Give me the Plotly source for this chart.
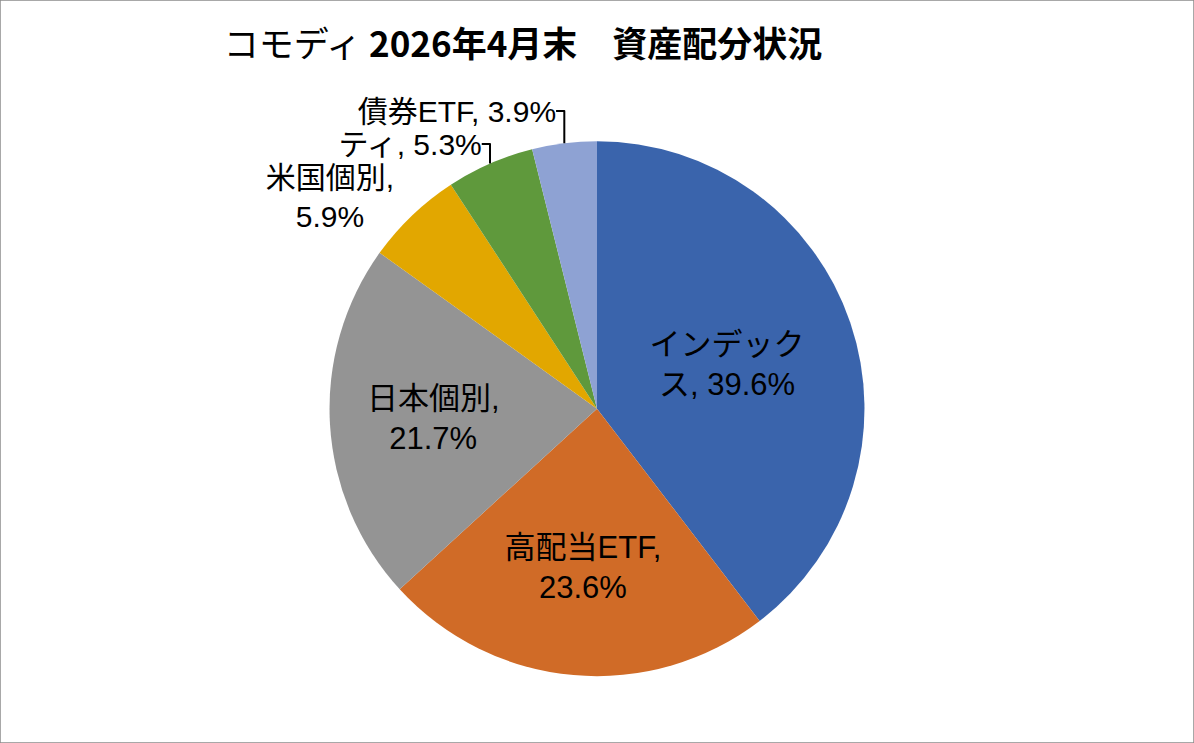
import plotly.graph_objects as go

# 資産配分 (2026年4月末)
labels = ["インデックス", "高配当ETF", "日本個別", "米国個別", "ティ", "債券ETF"]
values = [39.6, 23.6, 21.7, 5.9, 5.3, 3.9]
colors = ["#3A64AC", "#D06B27", "#949494", "#E2A700", "#5F993C", "#8EA2D3"]

# Excelの折り返しに合わせたラベル
texts = []
for lab, v in zip(labels, values):
    if lab == "インデックス":
        texts.append("インデック<br>ス, %.1f%%" % v)
    elif lab in ("高配当ETF", "日本個別", "米国個別"):
        texts.append("%s,<br>%.1f%%" % (lab, v))
    else:
        texts.append("%s, %.1f%%" % (lab, v))

positions = ["inside" if v > 10 else "outside" for v in values]
label_font = "Liberation Sans, Noto Sans CJK JP, sans-serif"

fig = go.Figure(go.Pie(
    labels=labels,
    values=values,
    text=texts,
    textinfo="text",
    textposition=positions,
    insidetextorientation="horizontal",
    sort=False,
    direction="clockwise",
    rotation=0,
    marker=dict(colors=colors, line=dict(color="white", width=0)),
    textfont=dict(family=label_font, size=31, color="#000000"),
    outsidetextfont=dict(family=label_font, size=30, color="#000000"),
    domain=dict(x=[0.27, 0.73], y=[0.09, 0.81]),
    showlegend=False,
    hoverinfo="label+percent",
))

fig.update_layout(
    width=1194,
    height=743,
    margin=dict(l=0, r=0, t=0, b=0),
    paper_bgcolor="white",
    font=dict(family="Noto Sans CJK JP, Noto Sans, sans-serif", color="#000000"),
    title=dict(
        text="コモディ <b>2026年4月末　資産配分状況</b>",
        x=0.438, xanchor="center",
        y=0.94, yanchor="middle",
        font=dict(size=35, color="#000000"),
    ),
    shapes=[dict(type="rect", xref="paper", yref="paper", x0=0, x1=1, y0=0, y1=1,
                 line=dict(color="#8C8C8C", width=1.5))],
)

fig.write_html("out.html", config={"displayModeBar": False},
               post_script="document.body.style.margin='0';")
